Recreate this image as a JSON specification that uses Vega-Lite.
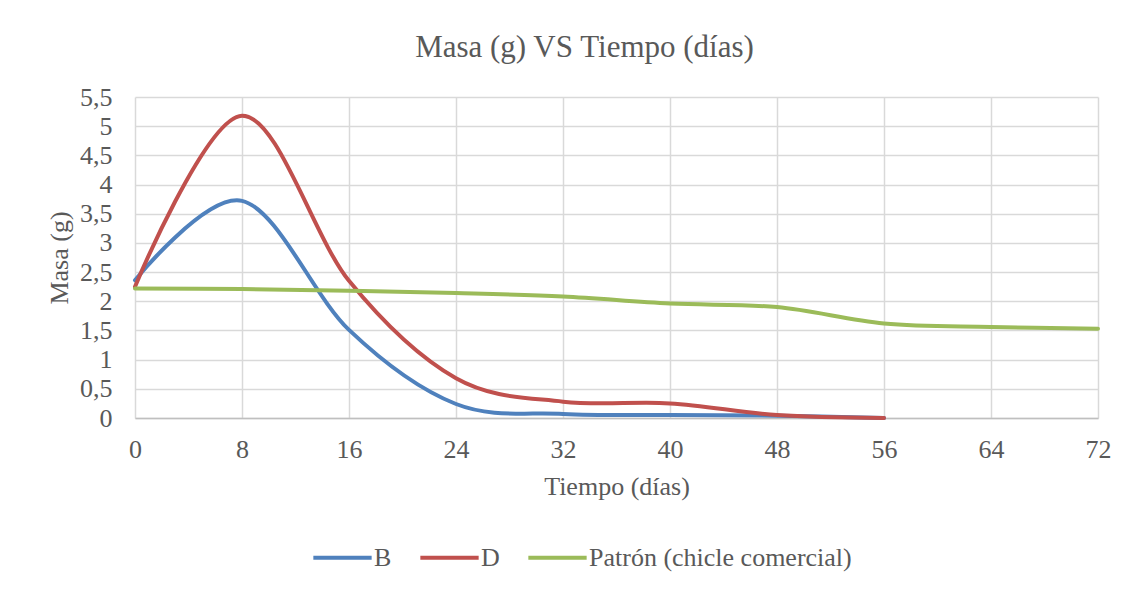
{
  "$schema": "https://vega.github.io/schema/vega-lite/v6.json",
  "width": 963,
  "height": 321,
  "autosize": {"type": "none"},
  "padding": {"left": 135, "top": 97, "right": 48, "bottom": 174},
  "background": "white",
  "title": {
    "text": "Masa (g) VS Tiempo (días)",
    "anchor": "middle",
    "dx": -32,
    "offset": 20,
    "font": "Liberation Serif",
    "fontSize": 31,
    "fontWeight": "normal",
    "color": "#595959"
  },
  "config": {
    "view": {"stroke": null},
    "font": "Liberation Serif"
  },
  "data": {
    "values": [
      {"serie": "B", "dia": 0, "masa": 2.36},
      {"serie": "B", "dia": 8, "masa": 3.72},
      {"serie": "B", "dia": 16, "masa": 1.51},
      {"serie": "B", "dia": 24, "masa": 0.24},
      {"serie": "B", "dia": 32, "masa": 0.07},
      {"serie": "B", "dia": 40, "masa": 0.05},
      {"serie": "B", "dia": 48, "masa": 0.04},
      {"serie": "B", "dia": 56, "masa": 0.0},
      {"serie": "D", "dia": 0, "masa": 2.25},
      {"serie": "D", "dia": 8, "masa": 5.18},
      {"serie": "D", "dia": 16, "masa": 2.35},
      {"serie": "D", "dia": 24, "masa": 0.68},
      {"serie": "D", "dia": 32, "masa": 0.28},
      {"serie": "D", "dia": 40, "masa": 0.25},
      {"serie": "D", "dia": 48, "masa": 0.05},
      {"serie": "D", "dia": 56, "masa": 0.0},
      {"serie": "Patrón (chicle comercial)", "dia": 0, "masa": 2.22},
      {"serie": "Patrón (chicle comercial)", "dia": 8, "masa": 2.21},
      {"serie": "Patrón (chicle comercial)", "dia": 16, "masa": 2.18},
      {"serie": "Patrón (chicle comercial)", "dia": 24, "masa": 2.14},
      {"serie": "Patrón (chicle comercial)", "dia": 32, "masa": 2.08},
      {"serie": "Patrón (chicle comercial)", "dia": 40, "masa": 1.96},
      {"serie": "Patrón (chicle comercial)", "dia": 48, "masa": 1.9},
      {"serie": "Patrón (chicle comercial)", "dia": 56, "masa": 1.62},
      {"serie": "Patrón (chicle comercial)", "dia": 64, "masa": 1.56},
      {"serie": "Patrón (chicle comercial)", "dia": 72, "masa": 1.53}
    ]
  },
  "mark": {"type": "line", "interpolate": "cardinal", "strokeWidth": 4, "strokeCap": "round"},
  "encoding": {
    "x": {
      "field": "dia",
      "type": "quantitative",
      "scale": {"domain": [0, 72], "nice": false, "zero": false},
      "axis": {
        "title": "Tiempo (días)",
        "values": [0, 8, 16, 24, 32, 40, 48, 56, 64, 72],
        "grid": true,
        "gridColor": "#d9d9d9",
        "gridWidth": 1.5,
        "domainColor": "#bfbfbf",
        "domainWidth": 1.5,
        "ticks": false,
        "labelPadding": 18,
        "labelFont": "Liberation Serif",
        "labelFontSize": 26,
        "labelColor": "#595959",
        "labelFlush": false,
        "titleFont": "Liberation Serif",
        "titleFontSize": 26,
        "titleFontWeight": "normal",
        "titleColor": "#595959",
        "titlePadding": 11
      }
    },
    "y": {
      "field": "masa",
      "type": "quantitative",
      "scale": {"domain": [0, 5.5], "nice": false},
      "axis": {
        "title": "Masa (g)",
        "values": [0, 0.5, 1, 1.5, 2, 2.5, 3, 3.5, 4, 4.5, 5, 5.5],
        "labelExpr": "replace(format(datum.value, '~g'), '.', ',')",
        "grid": true,
        "gridColor": "#d9d9d9",
        "gridWidth": 1.5,
        "domain": false,
        "ticks": false,
        "labelPadding": 23,
        "labelFont": "Liberation Serif",
        "labelFontSize": 26,
        "labelColor": "#595959",
        "titleFont": "Liberation Serif",
        "titleFontSize": 26,
        "titleFontWeight": "normal",
        "titleColor": "#595959",
        "titlePadding": 7
      }
    },
    "color": {
      "field": "serie",
      "type": "nominal",
      "scale": {
        "domain": ["B", "D", "Patrón (chicle comercial)"],
        "range": ["#4F81BD", "#C0504D", "#9BBB59"]
      },
      "legend": {
        "title": null,
        "orient": "none",
        "direction": "horizontal",
        "legendX": 176,
        "legendY": 429,
        "symbolType": "stroke",
        "symbolSize": 3400,
        "symbolStrokeWidth": 4,
        "labelFont": "Liberation Serif",
        "labelFontSize": 26,
        "labelColor": "#595959",
        "labelLimit": 500,
        "labelOffset": 0,
        "columnPadding": 20
      }
    }
  }
}
